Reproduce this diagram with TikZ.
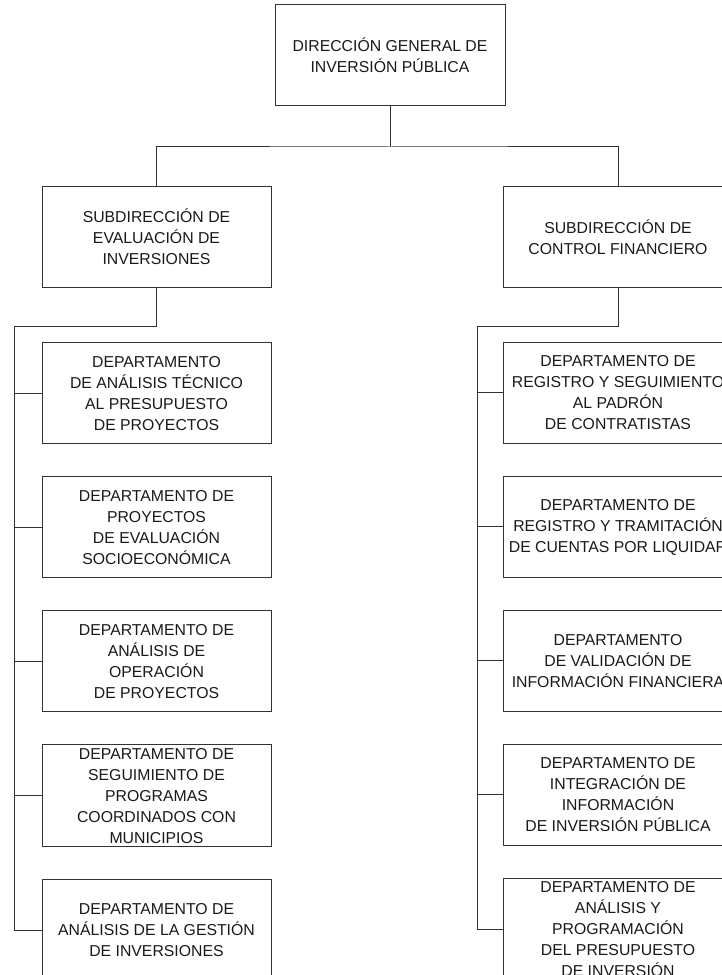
\documentclass[tikz,border=0pt]{standalone}
\usepackage{fontspec}
\setmainfont{Liberation Sans}
\usepackage{xcolor}
\usetikzlibrary{positioning}

\begin{document}
\begin{tikzpicture}[x=1pt, y=1pt, line width=1pt,
		font=\fontsize{15.8}{21}\selectfont,
		unit/.style={draw=black!80, text=black!90, minimum width=229pt, minimum height=101pt, inner xsep=2pt, align=center},
		link/.style={draw=black!80}]
		\useasboundingbox (0,0) rectangle (722,975);
		\clip (0,0) rectangle (722,975);
		\node[unit, minimum width=230pt] (dir) at (390,919.5) {DIRECCIÓN GENERAL DE\\INVERSIÓN PÚBLICA};
		\node[unit] (lsub) at (156.5,738) {SUBDIRECCIÓN DE\\EVALUACIÓN DE\\INVERSIONES};
		\node[unit] (rsub) at (618,738) {SUBDIRECCIÓN DE\\CONTROL FINANCIERO};
		% evaluacion
		\node[unit] (ld1) at (156.5,581.5) {DEPARTAMENTO\\DE ANÁLISIS TÉCNICO\\AL PRESUPUESTO\\DE PROYECTOS};
		\node[unit, below=32pt of ld1] (ld2) {DEPARTAMENTO DE\\PROYECTOS\\DE EVALUACIÓN\\SOCIOECONÓMICA};
		\node[unit, below=32pt of ld2] (ld3) {DEPARTAMENTO DE\\ANÁLISIS DE\\OPERACIÓN\\DE PROYECTOS};
		\node[unit, below=32pt of ld3] (ld4) {DEPARTAMENTO DE\\SEGUIMIENTO DE\\PROGRAMAS\\COORDINADOS CON\\MUNICIPIOS};
		\node[unit, below=32pt of ld4] (ld5) {DEPARTAMENTO DE\\ANÁLISIS DE LA GESTIÓN\\DE INVERSIONES};
		% control financiero
		\node[unit] (rd1) at (618,582) {DEPARTAMENTO DE\\REGISTRO Y SEGUIMIENTO\\AL PADRÓN\\DE CONTRATISTAS};
		\node[unit, below=32pt of rd1] (rd2) {DEPARTAMENTO DE\\REGISTRO Y TRAMITACIÓN\\DE CUENTAS POR LIQUIDAR};
		\node[unit, below=32pt of rd2] (rd3) {DEPARTAMENTO\\DE VALIDACIÓN DE\\INFORMACIÓN FINANCIERA};
		\node[unit, below=32pt of rd3] (rd4) {DEPARTAMENTO DE\\INTEGRACIÓN DE\\INFORMACIÓN\\DE INVERSIÓN PÚBLICA};
		\node[unit, below=32pt of rd4] (rd5) {DEPARTAMENTO DE\\ANÁLISIS Y\\PROGRAMACIÓN\\DEL PRESUPUESTO\\DE INVERSIÓN};
		% lines
		\coordinate (hub) at (390,828);
		\coordinate (lbus) at (14,648);
		\coordinate (rbus) at (477,648);
		\draw[link] (dir.south) -- (hub);
		\draw[link] (lsub.north) |- (hub) -| (rsub.north);
		\draw[link] (lsub.south) |- (lbus) -- (lbus |- ld5.west) -- (ld5.west);
		\draw[link] (rsub.south) |- (rbus) -- (rbus |- rd5.west) -- (rd5.west);
		\foreach \i in {1,...,4} {
			\draw[link] (lbus |- ld\i.west) -- (ld\i.west);
			\draw[link] (rbus |- rd\i.west) -- (rd\i.west);
		}
	\end{tikzpicture}
\end{document}
